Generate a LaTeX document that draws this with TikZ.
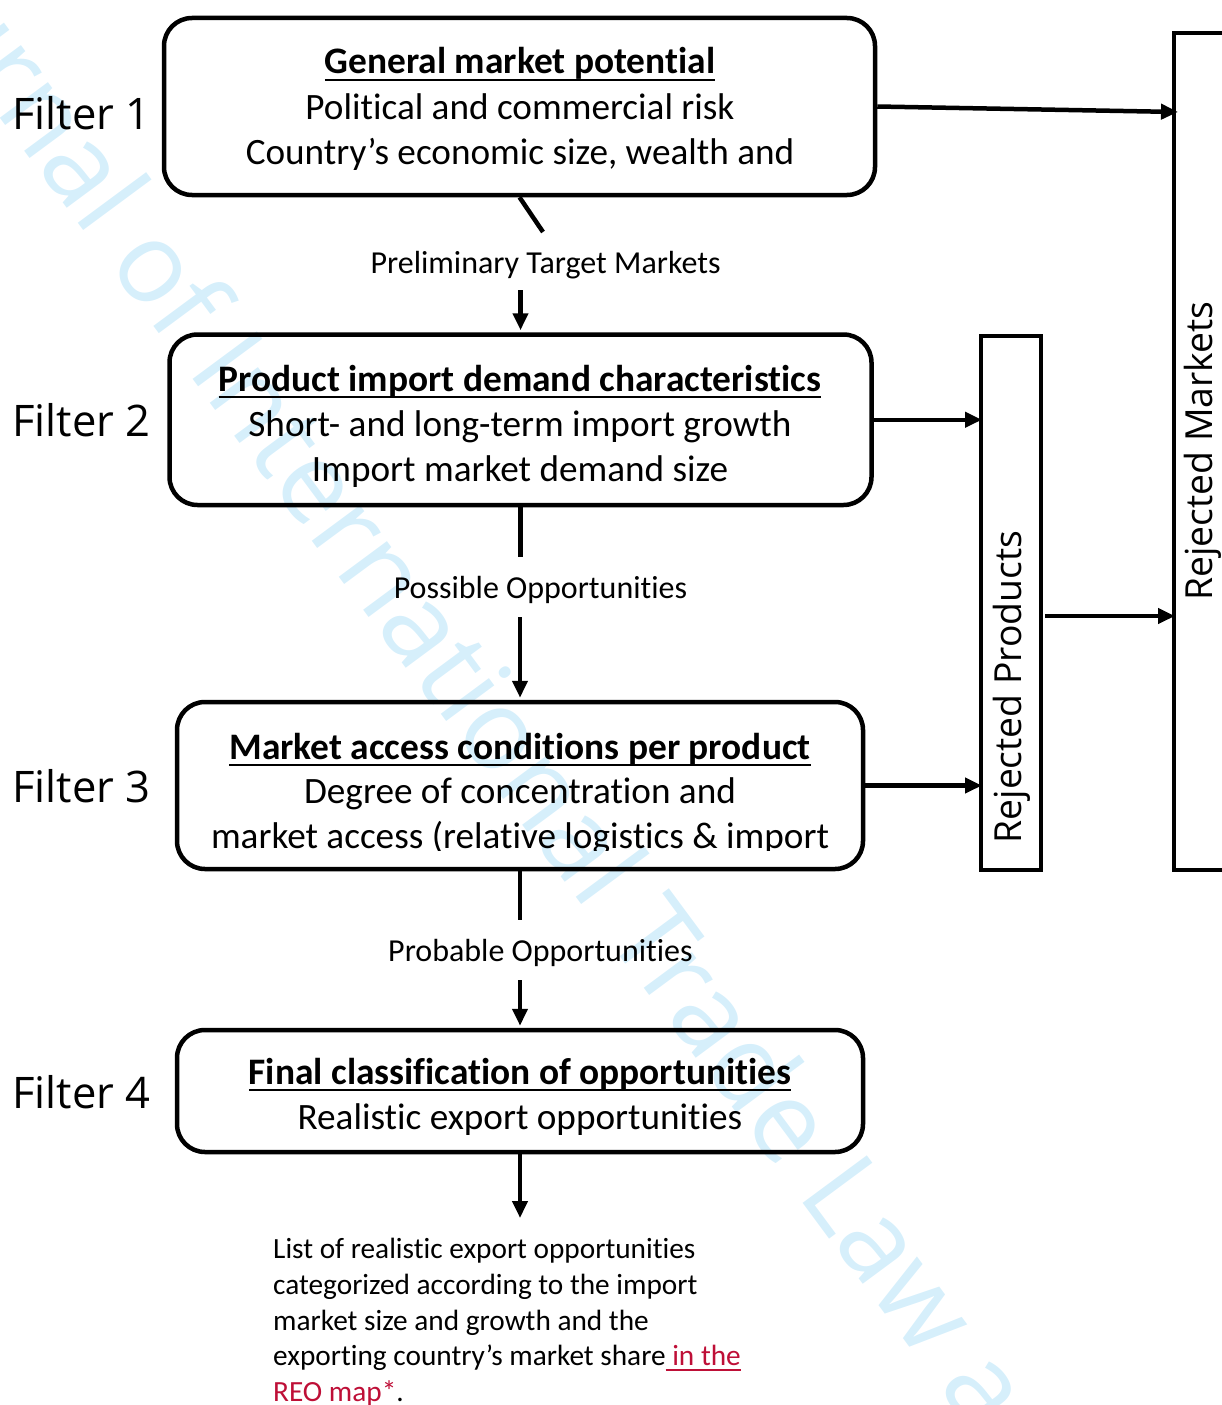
\documentclass[tikz,border=0pt]{standalone}
\usepackage{fontspec}
\setmainfont{Carlito}[Ligatures=NoCommon]
\newfontfamily\osans{Open Sans}
\usetikzlibrary{arrows.meta,calc}
\definecolor{wm}{RGB}{214,239,251}
\definecolor{lnk}{RGB}{190,15,55}
\newcommand\ulin[2][black]{\sbox0{#2}\rlap{\textcolor{#1}{\rule[-0.2em]{\wd0}{0.075em}}}\usebox0}
\begin{document}
\begin{tikzpicture}[x=1pt,y=-1pt,
  box/.style={draw,line width=4.5pt,rounded corners=28pt,inner sep=0pt},
  rbox/.style={draw,line width=4pt,inner sep=0pt},
  conn/.style={line width=4.5pt},
  arr/.style={line width=4.5pt,-{Triangle[length=17pt,width=15pt]}},
  main/.style={inner sep=0pt,anchor=base,font=\fontsize{37.2}{45}\selectfont},
  head/.style={inner sep=0pt,anchor=base,font=\fontsize{37.4}{45}\selectfont\bfseries},
  lab/.style={inner sep=0pt,anchor=base,font=\fontsize{32}{39}\selectfont},
  filt/.style={inner sep=0pt,anchor=base west,font=\osans\fontsize{43.5}{52}\selectfont},
  rej/.style={inner sep=0pt,rotate=90,font=\osans\fontsize{37.3}{45}\selectfont},
  bot/.style={inner sep=0pt,anchor=base west,font=\fontsize{29.3}{35.6}\selectfont},
]
\useasboundingbox (0,0) rectangle (1222,1405);
\clip (0,0) rectangle (1222,1405);
% watermark
\node[inner sep=0pt,anchor=base west,rotate=-53.5,text=wm,font=\osans\fontsize{112}{134}\selectfont] (wmk) at (-132,-60) {Journal of International Trade Law and Policy};

% boxes
\node[box,minimum width=711pt,minimum height=177pt] (b1) at (519.5,106.5) {};
\node[box,minimum width=702pt,minimum height=170.5pt] (b2) at (520.5,419.75) {};
\node[box,minimum width=686pt,minimum height=167pt] (b3) at (520,785.5) {};
\node[box,minimum width=686pt,minimum height=122pt] (b4) at (520,1091) {};
\node[rbox,minimum width=60pt,minimum height=534pt] (rp) at (1011,603) {};
\node[rbox,minimum width=96pt,minimum height=837pt] (rm) at (1222,451.5) {};

% box texts
\node[head] (t1a) at (520,74) {\ulin{General market potential}};
\node[main] (t1b) at (520,119) {Political and commercial risk};
\node[main] (t1c) at (520,164) {Country’s economic size, wealth and};
\node[head] (t2a) at (520,391) {\ulin{Product import demand characteristics}};
\node[main] (t2b) at (520,436) {Short- and long-term import growth};
\node[main] (t2c) at (520,481) {Import market demand size};
\node[head] (t3a) at (520,759) {\ulin{Market access conditions per product}};
\node[main] (t3b) at (520,803) {Degree of concentration and};
\begin{scope}
\clip (180,800) rectangle (860,850);
\node[main] (t3c) at (520,848) {market access (relative logistics \& import};
\end{scope}
\node[head] (t4a) at (520,1084) {\ulin{Final classification of opportunities}};
\node[main] (t4b) at (520,1129) {Realistic export opportunities};

% filter labels
\node[filt] (f1) at (12,129) {Filter 1};
\node[filt] (f2) at (12,436) {Filter 2};
\node[filt] (f3) at (12,802) {Filter 3};
\node[filt] (f4) at (12,1108) {Filter 4};

% rejected labels
\node[rej] (rpt) at (1012,687) {Rejected Products};
\node[rej] (rmt) at (1203,451) {Rejected Markets};

% flow labels
\node[lab] (l1) at (545.5,273) {Preliminary Target Markets};
\node[lab] (l2) at (540.5,598) {Possible Opportunities};
\node[lab] (l3) at (540.5,961) {Probable Opportunities};

% bottom text
\node[bot] (bt1) at (273,1258.5) {List of realistic export opportunities};
\node[bot] (bt2) at (273,1294) {categorized according to the import};
\node[bot] (bt3) at (273,1330) {market size and growth and the};
\node[bot] (bt4) at (273,1365.5) {exporting country’s market share\ulin[lnk]{\textcolor{lnk}{\ in the}}};
\node[bot] (bt5) at (273,1401) {\ulin[lnk]{\textcolor{lnk}{REO map*}}.};

% connector coordinates
\coordinate (s1) at (543,232);
\coordinate (a1) at (520.5,290);
\coordinate (s2) at (520.5,557);
\coordinate (a2) at (520,617);
\coordinate (s3) at (520,920);
\coordinate (a3) at (520,980);
\coordinate (e4) at (520,1218);
\coordinate (r1) at (1178,112);
\coordinate (p1) at (1045,616);

% connectors
\draw[conn] (b1.south) -- (s1);
\draw[arr,shorten >=2pt] (a1) -- (a1 |- b2.north);
\draw[conn] (b2.south) -- (s2);
\draw[arr,shorten >=2pt] (a2) -- (a2 |- b3.north);
\draw[conn] (b3.south) -- (s3);
\draw[arr,shorten >=2pt] (a3) -- (a3 |- b4.north);
\draw[arr] (b4.south) -- (e4);
\draw[arr] (b1.east) -- (r1);
\draw[arr,shorten >=-3pt] (b2.east) -- (rp.west |- b2.east);
\draw[arr,shorten >=-3pt] (b3.east) -- (rp.west |- b3.east);
\draw[arr,shorten >=-3pt] (p1) -- (rm.west |- p1);
\end{tikzpicture}
\end{document}
